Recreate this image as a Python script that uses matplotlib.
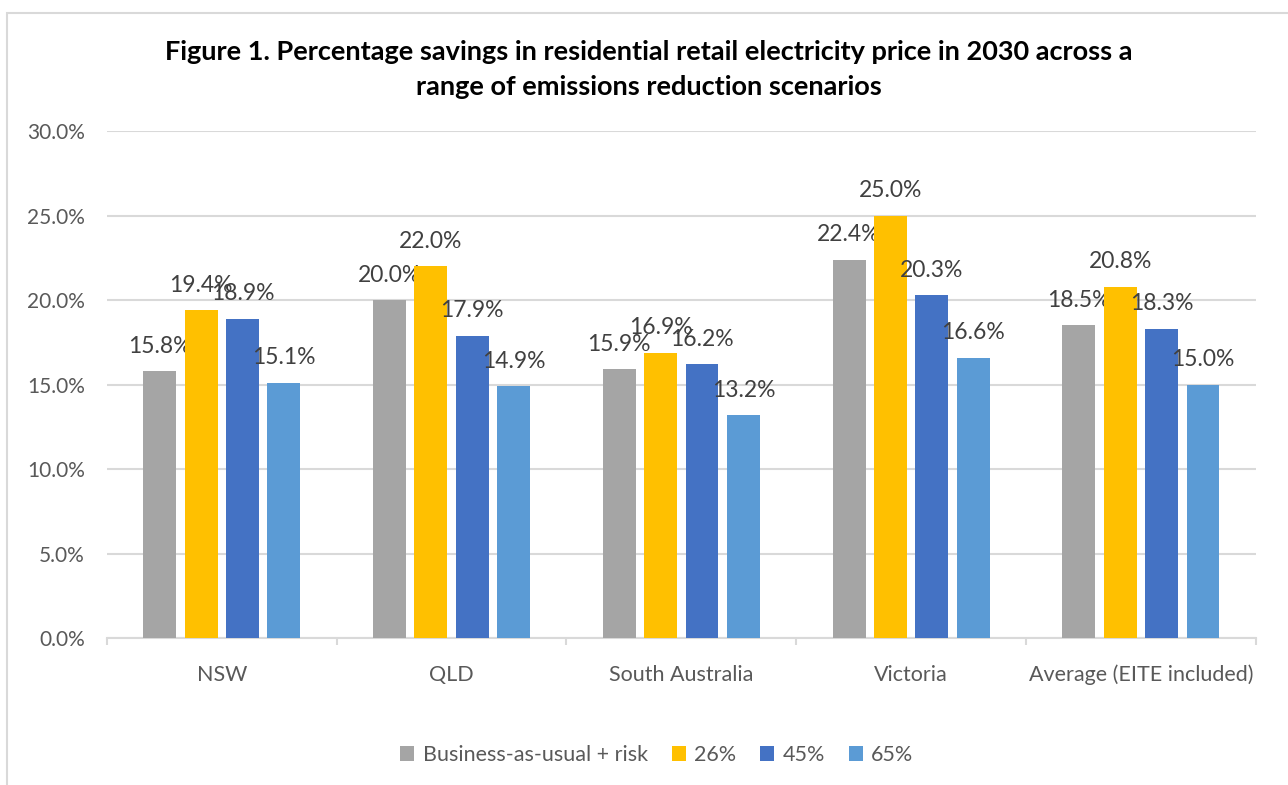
import numpy as np
import matplotlib.pyplot as plt
from matplotlib.patches import Patch, Rectangle

plt.rcParams['font.family'] = ['Lato', 'DejaVu Sans']

# 数据
regions = ['NSW', 'QLD', 'South Australia', 'Victoria', 'Average (EITE included)']
scenarios = ['Business-as-usual + risk', '26%', '45%', '65%']
bau_risk = [15.8, 20.0, 15.9, 22.4, 18.5]
cut_26 = [19.4, 22.0, 16.9, 25.0, 20.8]
cut_45 = [18.9, 17.9, 16.2, 20.3, 18.3]
cut_65 = [15.1, 14.9, 13.2, 16.6, 15.0]
y_ticks = [0, 5, 10, 15, 20, 25, 30]

series = [bau_risk, cut_26, cut_45, cut_65]
colors = ['#A5A5A5', '#FFC000', '#4472C4', '#5B9BD5']
offsets = [-0.27, -0.09, 0.09, 0.27]
bar_w = 0.143

fig = plt.figure(figsize=(12.88, 7.85), dpi=100)
ax = fig.add_axes([0.083, 0.187, 0.892, 0.646])

# 外边框
fig.patches.append(Rectangle((7 / 1288, -0.1), 1.2, 1.1 - 12.5 / 785, transform=fig.transFigure,
                             fill=False, edgecolor='#D9D9D9', linewidth=1.5, zorder=0))

x = np.arange(len(regions))
for vals, col, off in zip(series, colors, offsets):
    bars = ax.bar(x + off, vals, width=bar_w, color=col, zorder=3)
    for b, v in zip(bars, vals):
        ax.annotate(f'{v:.1f}%', (b.get_x() + b.get_width() / 2, v),
                    xytext=(0, 18), textcoords='offset points',
                    ha='center', va='center', fontsize=16.5, color='#404040')

ax.set_xlim(-0.5, len(regions) - 0.5)
ax.set_ylim(0, 30)
ax.set_yticks(y_ticks)
ax.set_yticklabels([f'{t:.1f}%' for t in y_ticks], fontsize=15, color='#595959')
ax.tick_params(axis='y', length=0, pad=16)
ax.set_xticks(x)
ax.set_xticklabels(regions, fontsize=15.5, color='#595959')
ax.set_xticks(np.arange(-0.5, len(regions), 1), minor=True)
ax.tick_params(axis='x', which='major', length=0, pad=19)
ax.tick_params(axis='x', which='minor', length=5, color='#D9D9D9', width=1.5)

ax.grid(axis='y', color='#D9D9D9', linewidth=1.5, zorder=0)
ax.set_axisbelow(True)
for s in ['top', 'right', 'left']:
    ax.spines[s].set_visible(False)
ax.spines['bottom'].set_color('#D9D9D9')
ax.spines['bottom'].set_linewidth(1.5)

fig.text(0.504, 0.912, 'Figure 1. Percentage savings in residential retail electricity price in 2030 across a\nrange of emissions reduction scenarios',
         ha='center', va='center', fontsize=19.5, fontweight='bold', color='black', linespacing=1.55)

handles = [Patch(facecolor=c) for c in colors]
fig.legend(handles, scenarios, loc='center', bbox_to_anchor=(0.51, 0.038), ncol=4,
           frameon=False, fontsize=15.5, labelcolor='#595959',
           handlelength=0.65, handleheight=0.65, handletextpad=0.4, columnspacing=1.1)

fig.savefig('out.png', dpi=100)
